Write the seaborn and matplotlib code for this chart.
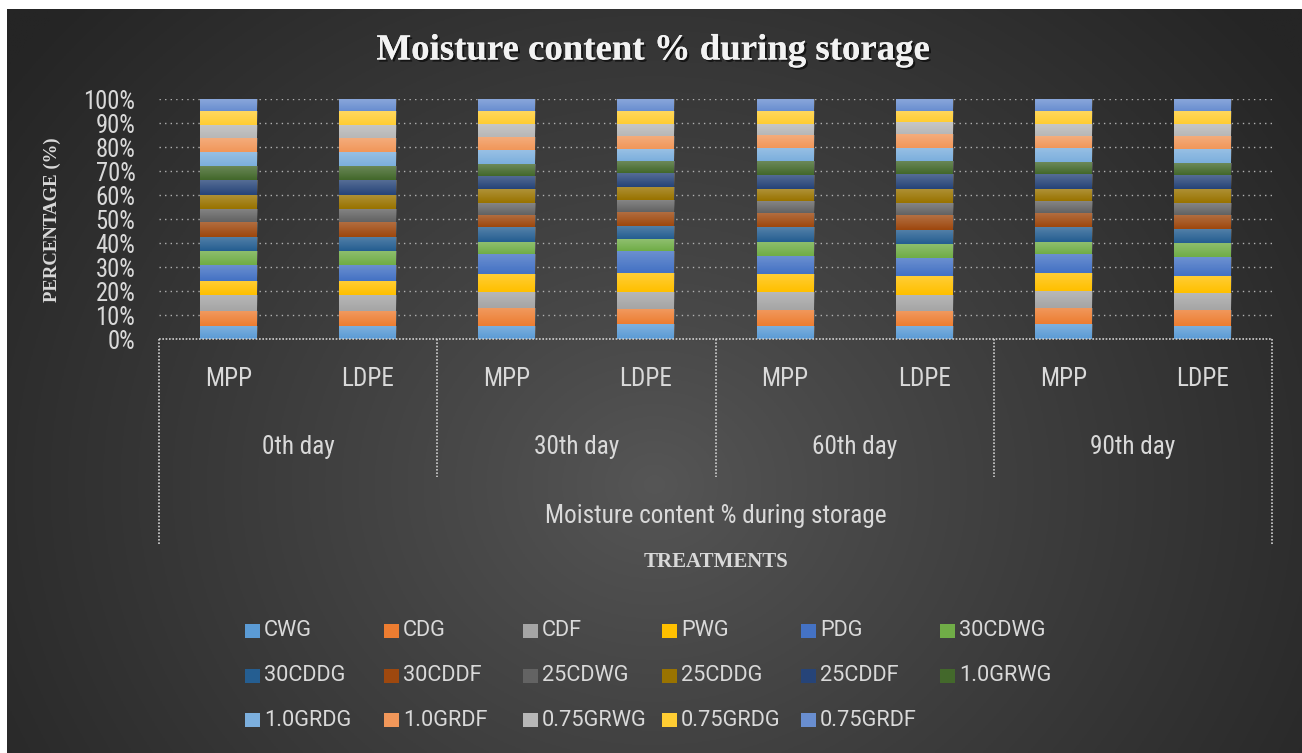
import numpy as np
import pandas as pd
import matplotlib
matplotlib.use("Agg")
import matplotlib.pyplot as plt
import matplotlib.patheffects as pe
from matplotlib import font_manager as fm
from matplotlib.patches import Rectangle
import seaborn as sns

# treatments (stack order, bottom to top)
treatments = ["CWG", "CDG", "CDF", "PWG", "PDG", "30CDWG",
              "30CDDG", "30CDDF", "25CDWG", "25CDDG", "25CDDF", "1.0GRWG",
              "1.0GRDG", "1.0GRDF", "0.75GRWG", "0.75GRDG", "0.75GRDF"]
days = ["0th day", "30th day", "60th day", "90th day"]
packages = ["MPP", "LDPE"]

# moisture content (%) per bar, one value per treatment
day0_mpp = [5.6, 5.9, 6.7, 5.9, 6.7, 5.9, 5.9, 6.3, 5.5, 5.9, 5.9, 5.9, 5.9, 5.9, 5.6, 5.7, 5.0]
day0_ldpe = [5.6, 5.9, 6.7, 5.9, 6.7, 5.9, 5.9, 6.3, 5.5, 5.9, 5.9, 5.9, 5.9, 5.9, 5.6, 5.7, 5.0]
day30_mpp = [5.6, 7.3, 6.7, 7.6, 8.4, 5.0, 5.9, 5.3, 5.0, 5.6, 5.7, 5.0, 5.5, 5.6, 5.3, 5.5, 5.0]
day30_ldpe = [6.2, 6.2, 7.3, 7.8, 9.2, 5.0, 5.5, 5.9, 5.0, 5.5, 5.5, 5.0, 5.0, 5.5, 5.0, 5.5, 5.0]
day60_mpp = [5.6, 6.7, 7.3, 7.6, 7.6, 5.9, 5.9, 6.2, 5.0, 5.0, 5.9, 5.5, 5.5, 5.6, 4.5, 5.5, 5.0]
day60_ldpe = [5.6, 5.9, 6.7, 8.1, 7.6, 5.9, 5.9, 6.2, 5.0, 5.9, 5.9, 5.5, 5.5, 5.9, 5.0, 4.6, 5.0]
day90_mpp = [6.2, 6.7, 7.0, 7.6, 8.1, 5.0, 5.9, 6.2, 5.0, 5.0, 5.9, 5.0, 5.9, 5.0, 5.0, 5.5, 5.0]
day90_ldpe = [5.6, 6.7, 6.7, 7.3, 7.8, 5.9, 5.9, 5.9, 5.0, 5.9, 5.5, 5.0, 5.9, 5.5, 5.0, 5.5, 5.0]

colors = ["#5B9BD5", "#ED7D31", "#A5A5A5", "#FFC000", "#4472C4", "#70AD47",
          "#255E91", "#9E480E", "#636363", "#997300", "#264478", "#43682B",
          "#7CAFDD", "#F1975A", "#B7B7B7", "#FFCD33", "#698ED0"]

W, H = 1302, 753
SERIF = ["Liberation Serif", "DejaVu Serif"]
TXT = "#d9d9d9"


def fx(px):
    return px / W


def fy(py):
    return 1 - py / H


def pick_narrow():
    fonts = fm.fontManager.ttflist
    names = {f.name for f in fonts}
    for n in ["Liberation Sans Narrow", "Roboto Condensed", "Open Sans Condensed",
              "Noto Sans Condensed", "DejaVu Sans Condensed"]:
        if n in names:
            return n, "normal"
    for f in fonts:
        if f.name in ("DejaVu Sans", "Noto Sans", "Open Sans") and "condensed" in str(f.stretch):
            return f.name, "condensed"
    return ("Roboto" if "Roboto" in names else "DejaVu Sans"), "normal"


def fitted_size(fig, s, target_px, **kw):
    probe = fig.text(0, 0, s, fontsize=20, **kw)
    w = probe.get_window_extent(fig.canvas.get_renderer()).width
    probe.remove()
    return 20 * target_px / w


def build_frame():
    bars = [day0_mpp, day0_ldpe, day30_mpp, day30_ldpe,
            day60_mpp, day60_ldpe, day90_mpp, day90_ldpe]
    labels = [f"{d} {p}" for d in days for p in packages]
    rows = []
    for lab, vals in zip(labels, bars):
        total = sum(vals)
        base = 0.0
        for t, v in zip(treatments, vals):
            share = v / total * 100
            rows.append({"bar": lab, "treatment": t, "share": share, "base": base})
            base += share
    return pd.DataFrame(rows), labels


def main():
    sns.set_theme(style="white")
    df, order = build_frame()
    fam, stretch = pick_narrow()
    nk = dict(family=[fam, "DejaVu Sans"], fontstretch=stretch)
    lk = dict(family=["Roboto", "DejaVu Sans"])

    fig = plt.figure(figsize=(W / 100, H / 100), dpi=100, facecolor="white")
    fig.canvas.draw()

    # dark radial background
    bg = fig.add_axes([fx(7), 0, 1 - fx(7), fy(9)])
    yy, xx = np.mgrid[0:1:300j, 0:1:500j]
    r = np.sqrt(((xx - 0.5) / 0.62) ** 2 + ((yy - 0.64) / 0.95) ** 2)
    r = np.clip(r, 0, 1) ** 0.9
    c0, c1 = np.array([0x56, 0x56, 0x56]) / 255, np.array([0x25, 0x25, 0x25]) / 255
    img = c0[None, None, :] * (1 - r[..., None]) + c1[None, None, :] * r[..., None]
    bg.imshow(img, aspect="auto", extent=[0, 1, 1, 0])
    bg.set_axis_off()

    ax = fig.add_axes([fx(159), fy(339), fx(1272) - fx(159), (339 - 99) / H])
    ax.set_facecolor("none")

    for t, c in zip(treatments, colors):
        sub = df[df["treatment"] == t].set_index("bar").loc[order].reset_index()
        sns.barplot(data=sub, x="bar", y="share", order=order, bottom=sub["base"].values,
                    color=c, saturation=1, width=0.41, errorbar=None,
                    edgecolor="none", linewidth=0, ax=ax, zorder=3)

    # soft highlight on each segment, like the original's gradient fill
    grad = np.ones((32, 1, 4))
    grad[:, 0, 3] = np.linspace(0.22, 0.0, 32)
    for p in list(ax.patches):
        x0, y0 = p.get_x(), p.get_y()
        im = ax.imshow(grad, extent=[x0, x0 + p.get_width(), y0, y0 + p.get_height()],
                       aspect="auto", zorder=3.5, interpolation="bilinear")
        im.set_clip_path(p)

    ax.set_xlim(-0.5, 7.5)
    ax.set_ylim(0, 100)
    ax.set_aspect("auto")
    tick_size = fitted_size(fig, "100%", 52, **nk)
    ax.set_yticks(range(0, 101, 10))
    ax.set_yticklabels([f"{v}%" for v in range(0, 101, 10)],
                       fontsize=tick_size, color=TXT, **nk)
    ax.tick_params(axis="y", length=0, pad=17)
    ax.set_xticks([])
    ax.set_xlabel("")
    ax.set_ylabel("")
    for s in ax.spines.values():
        s.set_visible(False)
    ax.yaxis.grid(True, color="#b0b0b0", linestyle=(0, (1, 3)), linewidth=1)
    ax.set_axisbelow(True)

    # category table below axis
    tr = ax.get_xaxis_transform()
    line_kw = dict(color="#cfcfcf", linestyle=(0, (1, 1)), linewidth=1.2,
                   transform=tr, clip_on=False, zorder=4)
    ax.plot([-0.5, 7.5], [0, 0], **line_kw)
    for xv in (-0.5, 7.5):
        ax.plot([xv, xv], [0, -(545 - 339) / 240], **line_kw)
    for xv in (1.5, 3.5, 5.5):
        ax.plot([xv, xv], [0, -(477 - 339) / 240], **line_kw)

    cat_size = fitted_size(fig, "Moisture content % during storage", 340, **nk)
    for i, lab in enumerate(order):
        ax.text(i, -(379 - 339) / 240, packages[i % 2], transform=tr, ha="center",
                va="center", fontsize=cat_size, color=TXT, **nk)
    for j, d in enumerate(days):
        ax.text(2 * j + 0.5, -(447 - 339) / 240, d, transform=tr, ha="center",
                va="center", fontsize=cat_size, color=TXT, **nk)
    ax.text(3.5, -(516 - 339) / 240, "Moisture content % during storage", transform=tr,
            ha="center", va="center", fontsize=cat_size, color=TXT, **nk)

    # titles
    fig.text(fx(653), fy(50), "Moisture content % during storage", ha="center",
             va="center", fontsize=26.5, fontweight="bold", color="#f2f2f2", family=SERIF,
             path_effects=[pe.withSimplePatchShadow(offset=(1.5, -1.5), shadow_rgbFace="black", alpha=0.6),
                           pe.Normal()])
    fig.text(fx(716), fy(562), "TREATMENTS", ha="center", va="center", fontsize=15,
             fontweight="bold", color=TXT, family=SERIF)
    fig.text(fx(52), fy(220), "PERCENTAGE (%)", ha="center", va="center", rotation=90,
             fontsize=13.5, fontweight="bold", color=TXT, family=SERIF)

    # legend, laid out in a uniform grid like the original
    leg_size = fitted_size(fig, "0.75GRWG", 105, **lk)
    for i, (t, c) in enumerate(zip(treatments, colors)):
        row, col = divmod(i, 6)
        x0 = 245 + col * 139
        yc = 631 + row * 44.5
        fig.add_artist(Rectangle((fx(x0), fy(yc + 7)), fx(15), 14 / H,
                                 transform=fig.transFigure, facecolor=c, edgecolor="none"))
        fig.text(fx(x0 + 19), fy(yc), t, ha="left", va="center",
                 fontsize=leg_size, color=TXT, **lk)

    fig.savefig("out.png", dpi=100, facecolor=fig.get_facecolor())


if __name__ == "__main__":
    main()
